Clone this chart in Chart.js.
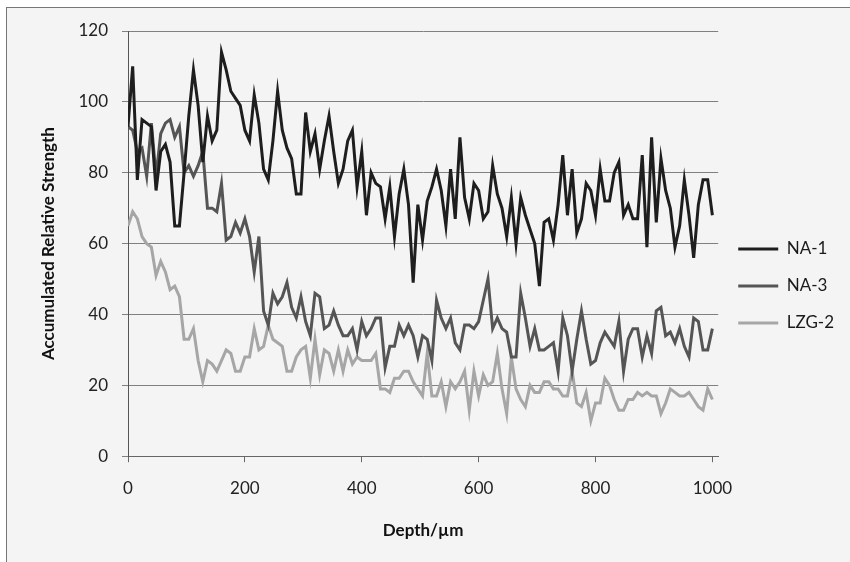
<!DOCTYPE html>
<html>
<head>
<meta charset="utf-8">
<script src="https://cdn.jsdelivr.net/npm/chart.js@4.4.1/dist/chart.umd.min.js"></script>
<style>
  html, body { margin: 0; padding: 0; background: #ffffff; overflow: hidden; }
  #frame { position: absolute; left: 6px; top: 7px; width: 900px; height: 600px;
           border: 1px solid #777; background: #f4f4f4; }
  #wrap { position: absolute; left: 0; top: 0; width: 850px; height: 562px; }
</style>
</head>
<body>
<div id="frame"></div>
<div id="wrap"><canvas id="chart" width="850" height="562"></canvas></div>
<script>
// depth in µm (x axis)
var depth = [
  0, 8, 16, 24, 32, 40, 48, 56, 64, 72, 80, 88, 96, 104, 112, 120, 128, 136, 144, 152,
  160, 168, 176, 184, 192, 200, 208, 216, 224, 232, 240, 248, 256, 264, 272, 280, 288, 296, 304, 312,
  320, 328, 336, 344, 352, 360, 368, 376, 384, 392, 400, 408, 416, 424, 432, 440, 448, 456, 464, 472,
  480, 488, 496, 504, 512, 520, 528, 536, 544, 552, 560, 568, 576, 584, 592, 600, 608, 616, 624, 632,
  640, 648, 656, 664, 672, 680, 688, 696, 704, 712, 720, 728, 736, 744, 752, 760, 768, 776, 784, 792,
  800, 808, 816, 824, 832, 840, 848, 856, 864, 872, 880, 888, 896, 904, 912, 920, 928, 936, 944, 952,
  960, 968, 976, 984, 992, 1000
];

var na1 = [
  93, 110, 78, 95, 94, 93, 75, 86, 88, 83, 65, 65, 80, 96, 109, 99, 83, 96, 89, 92,
  114, 109, 103, 101, 99, 92, 89, 102, 94, 81, 78, 89, 103, 92, 87, 84, 74, 74, 97, 86,
  91, 81, 89, 96, 86, 77, 81, 89, 92, 76, 86, 68, 80, 77, 76, 67, 76, 62, 74, 81,
  71, 49, 71, 61, 72, 76, 81, 75, 65, 81, 67, 90, 73, 67, 77, 75, 67, 69, 82, 74,
  70, 62, 73, 60, 73, 68, 64, 60, 48, 66, 67, 61, 71, 85, 68, 81, 63, 67, 77, 75,
  68, 81, 72, 72, 80, 83, 68, 71, 67, 67, 85, 59, 90, 66, 84, 75, 70, 59, 65, 78,
  68, 56, 71, 78, 78, 68
];

var na3 = [
  93, 92, 86, 87, 79, 94, 79, 91, 94, 95, 90, 93, 80, 82, 79, 82, 86, 70, 70, 69,
  77, 61, 62, 66, 63, 67, 62, 52, 62, 41, 37, 46, 43, 45, 49, 42, 39, 45, 38, 34,
  46, 45, 36, 37, 41, 37, 34, 34, 36, 30, 38, 34, 36, 39, 39, 25, 31, 31, 37, 34,
  37, 34, 28, 34, 33, 27, 44, 39, 36, 39, 32, 30, 37, 37, 36, 38, 44, 50, 36, 39,
  36, 35, 28, 28, 46, 39, 31, 36, 30, 30, 31, 32, 24, 39, 34, 24, 33, 41, 33, 26,
  27, 32, 35, 33, 31, 38, 24, 33, 36, 36, 28, 34, 29, 41, 42, 34, 35, 32, 36, 31,
  28, 39, 38, 30, 30, 36
];

var lzg2 = [
  65, 69, 67, 62, 60, 59, 51, 55, 52, 47, 48, 45, 33, 33, 36, 27, 21, 27, 26, 24,
  27, 30, 29, 24, 24, 28, 28, 36, 30, 31, 37, 33, 32, 31, 24, 24, 28, 30, 31, 22,
  33, 23, 30, 29, 24, 30, 24, 30, 26, 28, 27, 27, 27, 29, 19, 19, 18, 22, 22, 24,
  24, 21, 19, 17, 29, 17, 17, 21, 14, 21, 19, 21, 24, 13, 24, 17, 23, 20, 21, 29,
  19, 12, 28, 19, 16, 14, 20, 18, 18, 21, 21, 19, 19, 17, 17, 24, 15, 14, 18, 10,
  15, 15, 22, 20, 16, 13, 13, 16, 16, 18, 17, 18, 17, 17, 12, 15, 19, 18, 17, 17,
  18, 16, 14, 13, 19, 16
];

var seriesNames = ['NA-1', 'NA-3', 'LZG-2'];
var seriesColors = ['#1e1e1e', '#555555', '#a6a6a6'];
var yTicks = [0, 20, 40, 60, 80, 100, 120];
var xTicks = [0, 200, 400, 600, 800, 1000];

function pts(vals) {
  return depth.map(function (d, i) { return { x: d, y: vals[i] }; });
}

var fontFam = 'Lato, "Open Sans", sans-serif';
Chart.defaults.font.family = fontFam;

var ctx = document.getElementById('chart').getContext('2d');
new Chart(ctx, {
  type: 'line',
  data: {
    datasets: [na1, na3, lzg2].map(function (v, k) {
      return {
        label: seriesNames[k],
        data: pts(v),
        borderColor: seriesColors[k],
        backgroundColor: seriesColors[k],
        borderWidth: 3,
        pointRadius: 0,
        tension: 0,
        fill: false
      };
    })
  },
  options: {
    responsive: false,
    animation: false,
    layout: { padding: { left: 34, top: 31, right: 6, bottom: 21 } },
    plugins: {
      tooltip: { enabled: false },
      legend: {
        position: 'right',
        align: 'center',
        labels: {
          usePointStyle: true,
          pointStyle: 'line',
          pointStyleWidth: 40,
          color: '#1a1a1a',
          font: { size: 17 },
          padding: 20
        }
      }
    },
    scales: {
      x: {
        type: 'linear',
        min: 0,
        max: 1010,
        afterBuildTicks: function (s) { s.ticks = xTicks.map(function (v) { return { value: v }; }); },
        ticks: { color: '#222', font: { size: 17 }, padding: 16, maxRotation: 0,
                 callback: function (v) { return String(v); } },
        grid: { display: true, drawOnChartArea: false, color: '#666', tickLength: 6 },
        border: { color: '#666', width: 1 },
        title: { display: true, text: 'Depth/µm', color: '#111', font: { size: 17, weight: 'bold' }, padding: { top: 6, bottom: 0 } }
      },
      y: {
        min: 0,
        max: 120,
        afterBuildTicks: function (s) { s.ticks = yTicks.map(function (v) { return { value: v }; }); },
        afterFit: function (s) { s.width = 94; },
        ticks: { color: '#222', font: { size: 17 }, padding: 14 },
        grid: { color: '#808080', lineWidth: 1, tickLength: 6 },
        border: { color: '#555', width: 1 },
        title: { display: true, text: 'Accumulated Relative Strength', color: '#111', font: { size: 17, weight: 'bold' }, padding: { top: 4, bottom: 7 } }
      }
    }
  }
});
</script>
</body>
</html>
